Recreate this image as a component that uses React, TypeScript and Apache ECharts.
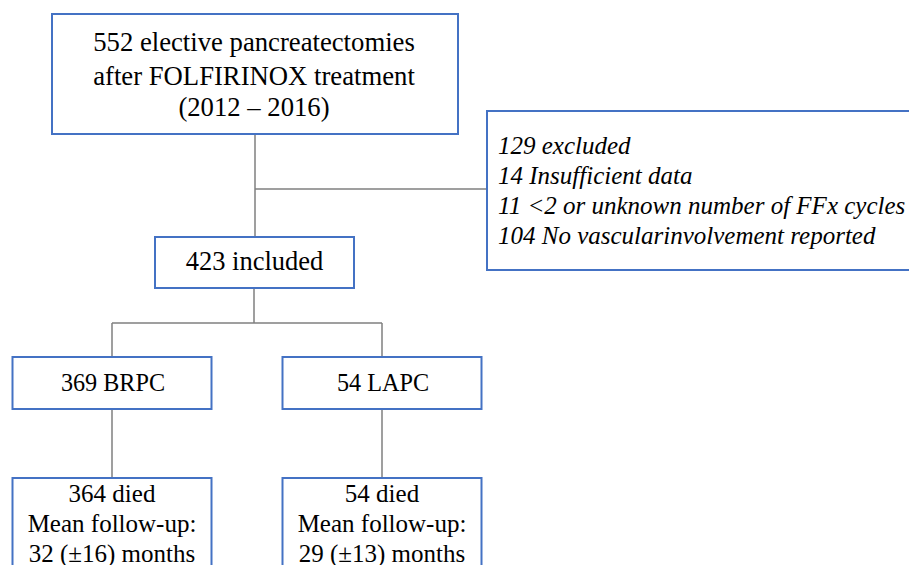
import React, { useEffect, useRef } from "react";
import * as echarts from "echarts";

// Flowchart content
const topLines = ["552 elective pancreatectomies", "after FOLFIRINOX treatment", "(2012 – 2016)"];
const excludedLines = [
  "129 excluded",
  "14 Insufficient data",
  "11 <2 or unknown number of FFx cycles",
  "104 No vascularinvolvement reported",
];
const includedLabel = "423 included";
const groupLabels = ["369 BRPC", "54 LAPC"];
const outcomeLines = [
  ["364 died", "Mean follow-up:", "32 (±16) months"],
  ["54 died", "Mean follow-up:", "29 (±13) months"],
];

const FONT = "Liberation Serif, Times New Roman, Times, serif";
const BOX = "#4472C4";
const LINK = "#7f7f7f";

export default function App() {
  const ref = useRef<HTMLDivElement>(null);
  useEffect(() => {
    if (!ref.current) return;
    const chart = echarts.init(ref.current, null, { renderer: "svg" });
    const els: any[] = [];
    const rect = (x: number, y: number, w: number, h: number) =>
      els.push({ type: "rect", shape: { x, y, width: w, height: h }, style: { fill: "#fff", stroke: BOX, lineWidth: 2 }, z: 2 });
    const line = (x1: number, y1: number, x2: number, y2: number) =>
      els.push({ type: "line", shape: { x1, y1, x2, y2 }, style: { stroke: LINK, lineWidth: 1.5 }, z: 1 });
    const text = (t: string, x: number, baseline: number, align: string, fs: number, italic = false) =>
      els.push({
        type: "text",
        x,
        y: baseline - 0.3375 * fs,
        z: 3,
        style: {
          text: t,
          font: (italic ? "italic " : "") + "normal " + fs + "px " + FONT,
          fill: "#000",
          align,
          verticalAlign: "middle",
        },
      });

    // connectors
    line(255, 134, 255, 237);
    line(255, 189, 487, 189);
    line(254, 288, 254, 323);
    line(112, 323, 382, 323);
    line(112, 323, 112, 357);
    line(382, 323, 382, 357);
    line(112, 409, 112, 478);
    line(382, 409, 382, 478);

    // top box
    rect(52, 14, 406, 120);
    const topBase = [51.3, 85, 115.7];
    topLines.forEach((t, i) => text(t, 254, topBase[i], "center", 26.7));

    // excluded box
    rect(487, 111, 440, 159);
    excludedLines.forEach((t, i) => text(t, 498, 154.3 + i * 30, "left", 25, true));

    // included
    rect(155, 237, 199, 51);
    text(includedLabel, 254.5, 270, "center", 26.5);

    const cx = [112, 382];
    groupLabels.forEach((t, i) => {
      rect(cx[i] - 99.5, 357, 199, 52);
      text(t, cx[i] + 1, 390.7, "center", 24.2);
    });
    outcomeLines.forEach((lines, i) => {
      rect(cx[i] - 99.5, 478, 199, 120);
      lines.forEach((t, j) => text(t, cx[i], 501.7 + j * 30, "center", 25));
    });

    chart.setOption({ animation: false, backgroundColor: "#fff", graphic: { elements: els } });
    return () => chart.dispose();
  }, []);
  return <div ref={ref} style={{ position: "fixed", left: 0, top: 0, width: 909, height: 565 }} />;
}
